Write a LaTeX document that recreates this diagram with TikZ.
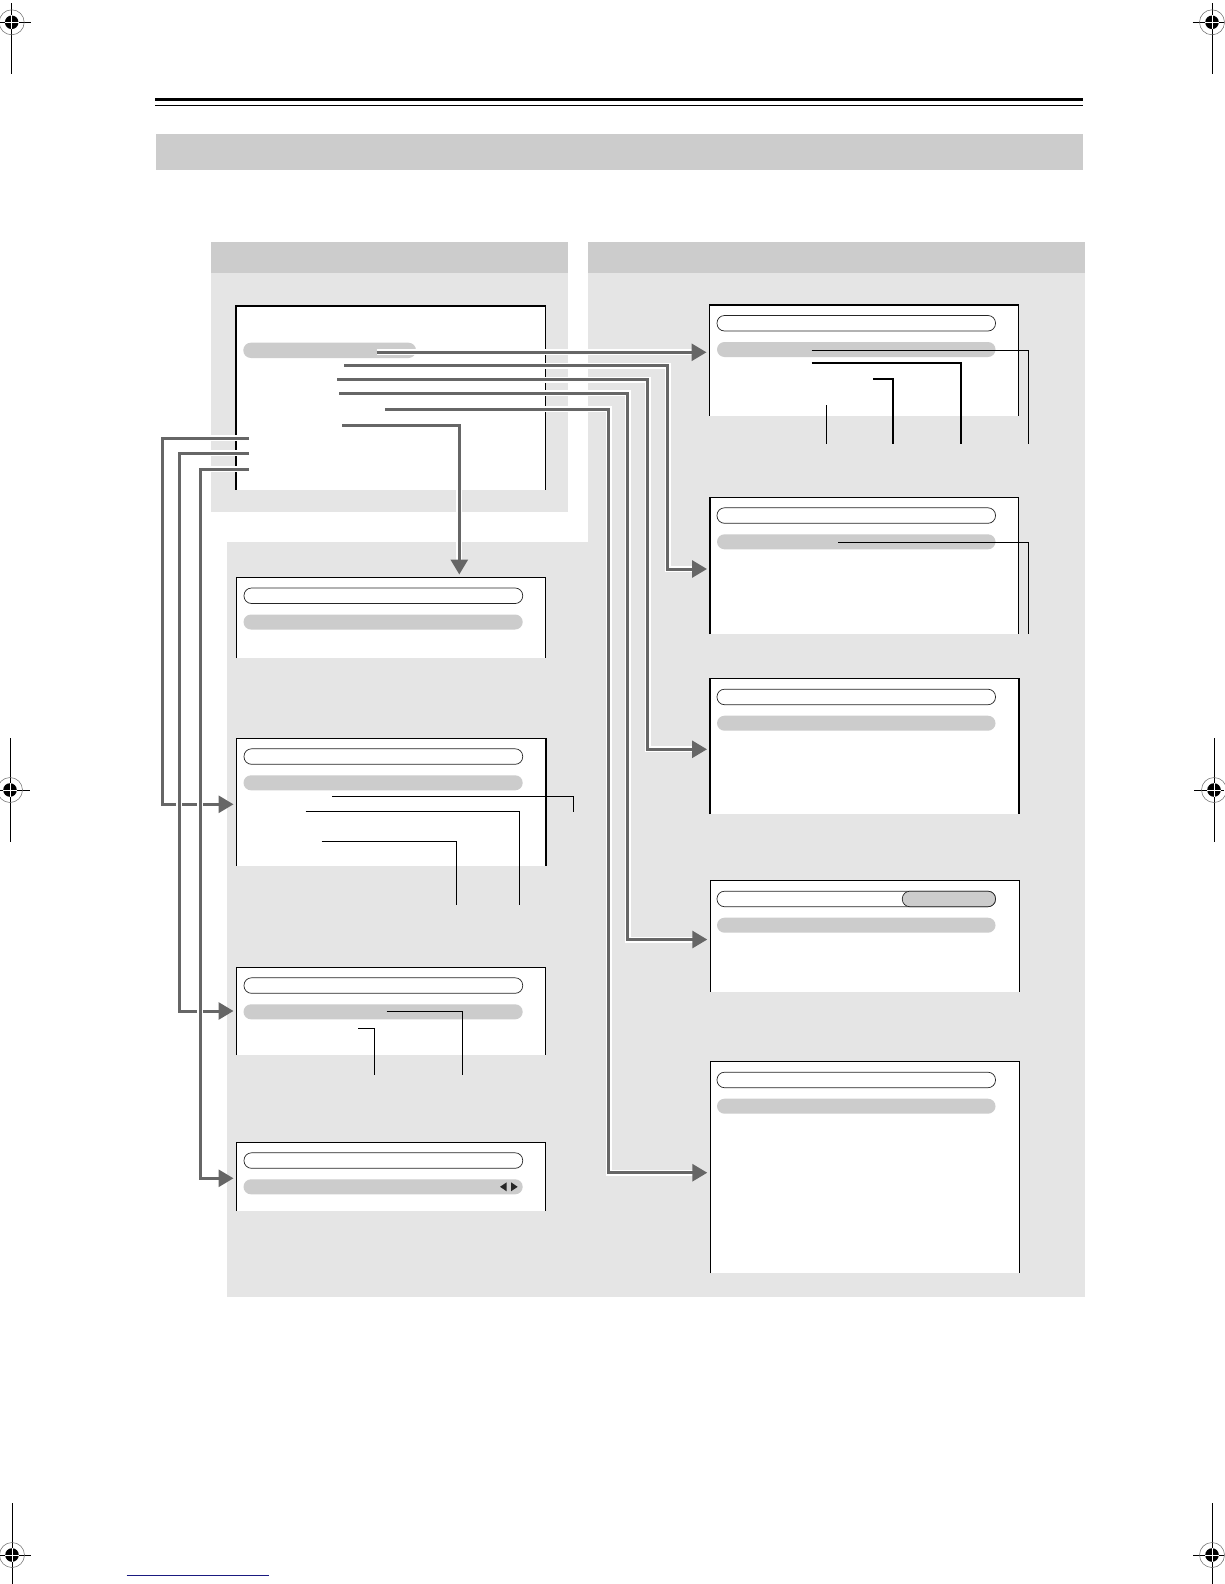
\documentclass[tikz,border=0pt]{standalone}
\usetikzlibrary{arrows.meta}
\definecolor{bandgray}{HTML}{CCCCCC}
\definecolor{panelgray}{HTML}{E5E5E5}
\definecolor{linegray}{HTML}{666666}
\definecolor{navyline}{HTML}{1A1A80}
\tikzset{
  screen/.style={fill=white, draw=none, inner sep=0pt, outer sep=0pt, anchor=north west},
  frame/.style={draw=black, line width=1.2pt},
  pillout/.style={draw=black!85, fill=white, line width=0.7pt, rounded corners=7.5pt},
  pillgray/.style={fill=bandgray, rounded corners=7.5pt},
  conn/.style={draw=linegray, line width=3pt, shorten >=3pt,
    -{Triangle[length=15pt,width=17pt]},
    preaction={draw=white, line width=6pt, -, shorten >=14pt}},
  callout/.style={draw=black, line width=1pt},
  callthick/.style={draw=black, line width=1.8pt},
  regline/.style={draw=black, line width=0.8pt},
}
\newcommand\screenbox[5]{%
  \node[screen, minimum width=#4pt, minimum height=#5pt] (#1) at (#2,#3) {};
  \draw[frame] (#1.south west) -- (#1.north west) -- (#1.north east) -- (#1.south east);}
\newcommand\regmark[6]{%
  \draw[regline] (#1-#3,#2) -- (#1+#4,#2);
  \draw[regline] (#1,#2-#5) -- (#1,#2+#6);
  \draw[black!60, line width=0.5pt] (#1,#2) circle[radius=12.5pt];
  \fill[black] (#1,#2) circle[radius=6.8pt];
  \draw[white, line width=0.8pt] (#1-6.8,#2) -- (#1+6.8,#2) (#1,#2-6.8) -- (#1,#2+6.8);}
\begin{document}
\begin{tikzpicture}[x=1pt,y=-1pt]
\useasboundingbox (0,0) rectangle (1224,1584);
\fill[white] (0,0) rectangle (1224,1584);

% register marks
\regmark{11.7}{22.3}{11.7}{19.3}{19}{52}
\regmark{1212}{22.3}{19.3}{12}{19}{52}
\regmark{10}{790}{10}{20}{52}{52}
\regmark{1214}{790}{20}{10}{52}{52}
\regmark{12}{1555}{12}{19}{52}{29}
\regmark{1212}{1555}{19}{12}{52}{29}

% page header
\fill[black] (155,98) rectangle (1083,101.3);
\draw[line width=1pt] (155,106) -- (1083,106);
\fill[bandgray] (155.7,134.3) rectangle (1082.6,170);

% panels
\fill[panelgray] (211,242) rectangle (567.7,511.5);
\fill[panelgray] (587.5,242) rectangle (1085,1297);
\fill[panelgray] (226.5,542) rectangle (1085,1297);
\fill[bandgray] (211,242) rectangle (567.7,273.3);
\fill[bandgray] (587.5,242) rectangle (1085,273.3);

% screens
\screenbox{mm}{236}{306}{309.5}{183.5}
\screenbox{L1}{236.5}{577.5}{309}{80.5}
\screenbox{L2}{236.5}{738.3}{309.5}{127.4}
\screenbox{L3}{236.5}{967.3}{309.2}{87.7}
\screenbox{L4}{236.5}{1142.3}{309.2}{68.7}
\screenbox{R1}{709.5}{305}{309.2}{110.7}
\screenbox{R2}{710}{497.3}{308.5}{136.7}
\screenbox{R3}{710}{678.7}{309}{135.3}
\screenbox{R4}{710.3}{880.7}{309}{111}
\screenbox{R5}{710.3}{1061.7}{309}{211.6}

% pills
\fill[pillgray] (243.3,342.7) rectangle (416,358);
\foreach \t in {577.5,738.3,967.3,1142.3}{
  \draw[pillout] (244,\t+10.5) rectangle (522.7,\t+26);
  \fill[pillgray] (243.5,\t+37) rectangle (522.7,\t+52);
}
\foreach \t in {305,497.3,678.7,880.7,1061.7}{
  \draw[pillout] (717,\t+10.5) rectangle (995.5,\t+26);
  \fill[pillgray] (717,\t+37) rectangle (995.5,\t+52);
}
\draw[pillout, fill=bandgray] (902.3,891.2) rectangle (995.5,906.7);
\fill[black!85] (506.7,1182.3) -- (506.7,1191.3) -- (500,1186.8) -- cycle;
\fill[black!85] (511,1182.3) -- (511,1191.3) -- (517.7,1186.8) -- cycle;

% connector ends
\coordinate (m1) at (376.7,352.3);
\coordinate (m2) at (344,365.7);
\coordinate (m3) at (337,379.7);
\coordinate (m4) at (339,393.3);
\coordinate (m5) at (385,409.3);
\coordinate (m6) at (342.3,425.7);
\coordinate (s1) at (249,438.3);
\coordinate (s2) at (249,453.3);
\coordinate (s3) at (249,469);
\coordinate (b2) at (667.7,569);
\coordinate (b3) at (647.7,749.3);
\coordinate (b4) at (627.5,939.5);
\coordinate (b5) at (608.5,1172.7);
\coordinate (b6) at (459.3,425.7);
\coordinate (b7) at (162.3,804.3);
\coordinate (b8) at (179.3,1011);
\coordinate (b9) at (200,1178.3);

% connectors
\draw[conn] (m1) -- (R1.west |- m1);
\draw[conn] (m2) -| (b2) -- (R2.west |- b2);
\draw[conn] (m3) -| (b3) -- (R3.west |- b3);
\draw[conn] (m4) -| (b4) -- (R4.west |- b4);
\draw[conn] (m5) -| (b5) -- (R5.west |- b5);
\draw[conn] (m6) -- (b6) -- (b6 |- L1.north);
\draw[conn] (s1) -| (b7) -- (L2.west |- b7);
\draw[conn] (s2) -| (b8) -- (L3.west |- b8);
\draw[conn] (s3) -| (b9) -- (L4.west |- b9);

% callouts
\coordinate (k1) at (811.7,350.7);
\coordinate (k2) at (811.7,363.3);
\coordinate (k3) at (873.3,379);
\coordinate (k4) at (826.7,405);
\coordinate (k5) at (838,542);
\coordinate (k6) at (332.3,796.3);
\coordinate (k7) at (305.7,811);
\coordinate (k8) at (321.7,841.7);
\coordinate (k9) at (386.7,1011);
\coordinate (k10) at (358.3,1028.3);
\draw[callout] (k1) -| (1028.3,444);
\draw[callthick] (k2) -| (961,444);
\draw[callthick] (k3) -| (893.3,444);
\draw[callout] (k4) -- (826.7,444);
\draw[callout] (k5) -| (1028,634);
\draw[callout] (k6) -| (573.3,811.7);
\draw[callout] (k7) -| (519.3,905);
\draw[callout] (k8) -| (456,905);
\draw[callout] (k9) -| (462.3,1075);
\draw[callout] (k10) -| (374.3,1075);

% footer line
\draw[navyline, line width=1.2pt] (126.7,1575.3) -- (269,1575.3);
\end{tikzpicture}
\end{document}
